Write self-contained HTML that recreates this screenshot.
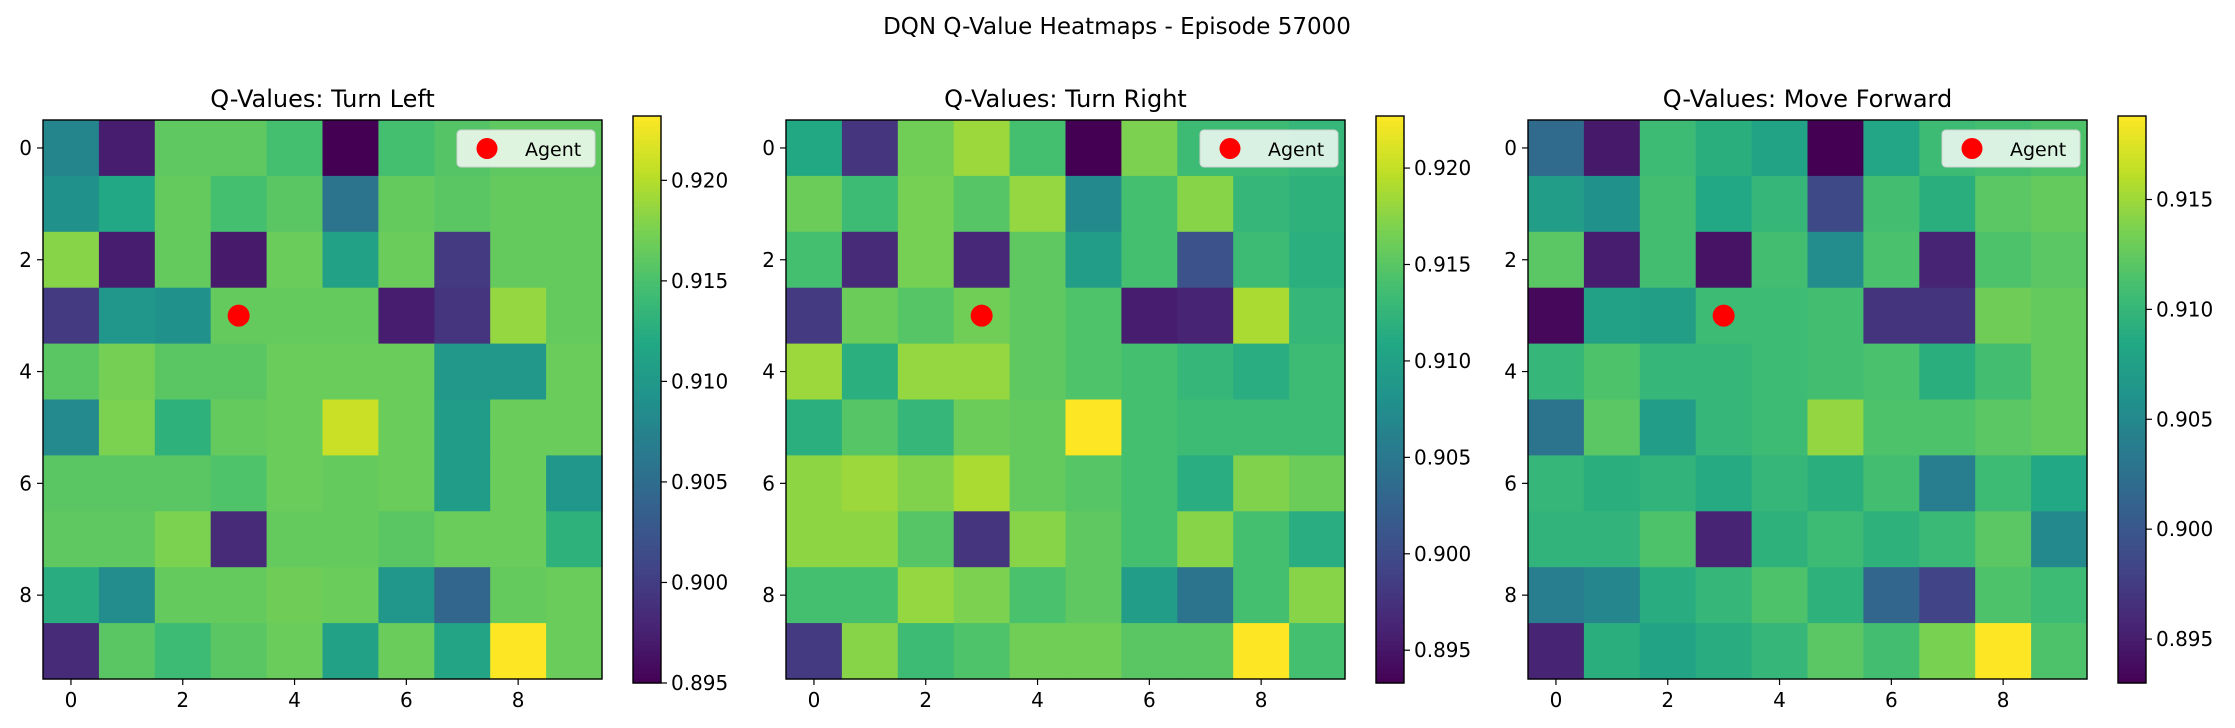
<!DOCTYPE html>
<html><head><meta charset="utf-8"><style>
html,body{margin:0;padding:0;background:#fff;}
svg{display:block;font-family:"DejaVu Sans","Liberation Sans",sans-serif;}
</style></head><body>
<svg id="chart" width="2235" height="728" viewBox="0 0 2235 728" xmlns="http://www.w3.org/2000/svg">
<rect width="2235" height="728" fill="#fff"/>
<text x="1117" y="34" font-size="23" text-anchor="middle" fill="#000">DQN Q-Value Heatmaps - Episode 57000</text>
</svg>
<script>
const panelTitles = ["Q-Values: Turn Left","Q-Values: Turn Right","Q-Values: Move Forward"];
const panelNames = ["turn-left","turn-right","move-forward"];
const agentPos = [3,3]; // [col,row]
const axisTicks = [0,2,4,6,8];
const cbTicks = [[0.895,0.900,0.905,0.910,0.915,0.920],[0.895,0.900,0.905,0.910,0.915,0.920],[0.895,0.900,0.905,0.910,0.915]];
const qTurnLeft = [
[.9077,.8973,.9162,.9162,.9147,.8950,.9147,.9156,.9162,.9162],
[.9091,.9119,.9164,.9147,.9159,.9057,.9164,.9159,.9164,.9164],
[.9181,.8973,.9164,.8970,.9167,.9111,.9167,.8998,.9164,.9164],
[.8998,.9097,.9091,.9164,.9164,.9164,.8973,.8992,.9187,.9164],
[.9159,.9173,.9159,.9159,.9167,.9167,.9167,.9099,.9099,.9167],
[.9083,.9176,.9130,.9164,.9167,.9209,.9167,.9105,.9167,.9167],
[.9159,.9159,.9159,.9153,.9167,.9164,.9167,.9105,.9167,.9097],
[.9162,.9162,.9176,.8984,.9164,.9164,.9159,.9167,.9167,.9130],
[.9125,.9085,.9164,.9164,.9170,.9167,.9097,.9043,.9164,.9167],
[.8984,.9159,.9142,.9159,.9167,.9111,.9167,.9114,.9232,.9167]];
const qTurnRight = [
[.9110,.8977,.9163,.9183,.9139,.8933,.9169,.9133,.9133,.9127],
[.9160,.9133,.9166,.9148,.9180,.9071,.9139,.9174,.9127,.9121],
[.9139,.8968,.9166,.8965,.9154,.9095,.9139,.9007,.9133,.9118],
[.8983,.9160,.9148,.9163,.9154,.9145,.8957,.8962,.9189,.9127],
[.9183,.9118,.9180,.9180,.9154,.9145,.9139,.9127,.9116,.9133],
[.9118,.9148,.9127,.9160,.9157,.9227,.9139,.9133,.9133,.9133],
[.9177,.9183,.9171,.9189,.9157,.9148,.9139,.9116,.9171,.9160],
[.9177,.9177,.9148,.8977,.9174,.9154,.9139,.9174,.9139,.9116],
[.9139,.9139,.9180,.9169,.9142,.9154,.9095,.9045,.9139,.9174],
[.8983,.9174,.9133,.9145,.9163,.9163,.9151,.9151,.9227,.9139]];
const qMoveForward = [
[.9020,.8948,.9105,.9092,.9079,.8930,.9082,.9105,.9110,.9115],
[.9072,.9059,.9110,.9085,.9100,.8987,.9110,.9092,.9121,.9126],
[.9121,.8951,.9110,.8943,.9110,.9054,.9113,.8956,.9115,.9121],
[.8935,.9077,.9074,.9105,.9105,.9110,.8969,.8969,.9131,.9126],
[.9100,.9115,.9100,.9100,.9105,.9110,.9113,.9092,.9110,.9126],
[.9028,.9121,.9072,.9100,.9105,.9146,.9115,.9115,.9121,.9126],
[.9100,.9092,.9097,.9087,.9100,.9092,.9110,.9038,.9105,.9085],
[.9097,.9097,.9115,.8956,.9095,.9105,.9095,.9103,.9121,.9051],
[.9038,.9048,.9090,.9100,.9115,.9095,.9015,.8982,.9115,.9105],
[.8956,.9092,.9079,.9090,.9100,.9121,.9110,.9136,.9188,.9115]];
const grids = [qTurnLeft, qTurnRight, qMoveForward];

const VIR = ["#440154","#482475","#414487","#355f8d","#2a788e","#21918c","#22a884","#44bf70","#7ad151","#bddf26","#fde725"];
function hex(h){return [parseInt(h.slice(1,3),16),parseInt(h.slice(3,5),16),parseInt(h.slice(5,7),16)];}
function viridis(t){t=Math.max(0,Math.min(1,t));const p=t*10;const i=Math.min(9,Math.floor(p));const f=p-i;const a=hex(VIR[i]),b=hex(VIR[i+1]);
return "rgb("+a.map((v,k)=>Math.round(v+(b[k]-v)*f)).join(",")+")";}
const NS="http://www.w3.org/2000/svg";
const svg=document.getElementById("chart");
function mk(tag,attrs,parent){const e=document.createElementNS(NS,tag);for(const k in attrs)e.setAttribute(k,attrs[k]);(parent||svg).appendChild(e);return e;}
const lefts=[43,786,1528], TOP=120, SIZE=559, CBW=28, CBTOP=116, CBBOT=683;
grids.forEach((g,p)=>{
  const grp=mk("g",{});
  
  
  const L=lefts[p]; const n=g.length; const cell=SIZE/n;
  let vmin=Infinity,vmax=-Infinity; g.forEach(r=>r.forEach(v=>{vmin=Math.min(vmin,v);vmax=Math.max(vmax,v);}));
  const xs=c=>L+(c+0.5)*cell, ys=r=>TOP+(r+0.5)*cell;
  g.forEach((row,r)=>row.forEach((v,c)=>{
    const rc=mk("rect",{x:L+c*cell,y:TOP+r*cell,width:cell+0.6,height:cell+0.6,fill:viridis((v-vmin)/(vmax-vmin))},grp);
    
    
  }));
  const fr=mk("rect",{x:L,y:TOP,width:SIZE,height:SIZE,fill:"none",stroke:"#000","stroke-width":1.4},grp);
  
  
  const t=mk("text",{x:L+SIZE/2,y:107,"font-size":24,"text-anchor":"middle",fill:"#000"},grp);t.textContent=panelTitles[p];
  
  
  axisTicks.forEach(k=>{
    mk("line",{x1:xs(k),x2:xs(k),y1:TOP+SIZE,y2:TOP+SIZE+6,stroke:"#000","stroke-width":1.2},grp);
    const tx=mk("text",{x:xs(k),y:TOP+SIZE+28,"font-size":20,"text-anchor":"middle",fill:"#000"},grp);tx.textContent=k;
    
    
    mk("line",{x1:L-6,x2:L,y1:ys(k),y2:ys(k),stroke:"#000","stroke-width":1.2},grp);
    const ty=mk("text",{x:L-11,y:ys(k)+7,"font-size":20,"text-anchor":"end",fill:"#000"},grp);ty.textContent=k;
    
    
  });
  const ag=mk("ellipse",{cx:xs(agentPos[0]),cy:ys(agentPos[1]),rx:11,ry:11,fill:"#ff0000"},grp);
  
  
  const lg=mk("g",{},grp);
  
  
  mk("rect",{x:L+414,y:130,width:138,height:37,rx:4,fill:"rgba(255,255,255,0.8)",stroke:"#d0d0d0","stroke-width":1},lg);
  mk("circle",{cx:L+444,cy:148.5,r:10.5,fill:"#ff0000"},lg);
  const lt=mk("text",{x:L+482,y:156,"font-size":19,fill:"#000"},lg);lt.textContent="Agent";
  
  
  const CX=L+590;
  const cb=mk("g",{},grp);
  
  
  const steps=120;
  for(let i=0;i<steps;i++){const h=(CBBOT-CBTOP)/steps;mk("rect",{x:CX,y:CBBOT-(i+1)*h,width:CBW,height:h+0.6,fill:viridis((i+0.5)/steps)},cb);}
  mk("rect",{x:CX,y:CBTOP,width:CBW,height:CBBOT-CBTOP,fill:"none",stroke:"#000","stroke-width":1.4},cb);
  const cy=v=>CBBOT-(v-vmin)/(vmax-vmin)*(CBBOT-CBTOP);
  cbTicks[p].forEach(v=>{const y=cy(v); if(y<CBTOP-1||y>CBBOT+2) return;
    mk("line",{x1:CX+CBW,x2:CX+CBW+6,y1:y,y2:y,stroke:"#000","stroke-width":1.2},cb);
    const ct=mk("text",{x:CX+CBW+10,y:y+7,"font-size":20,fill:"#000"},cb);ct.textContent=v.toFixed(3);
    
    
  });
});
</script>
</body></html>
